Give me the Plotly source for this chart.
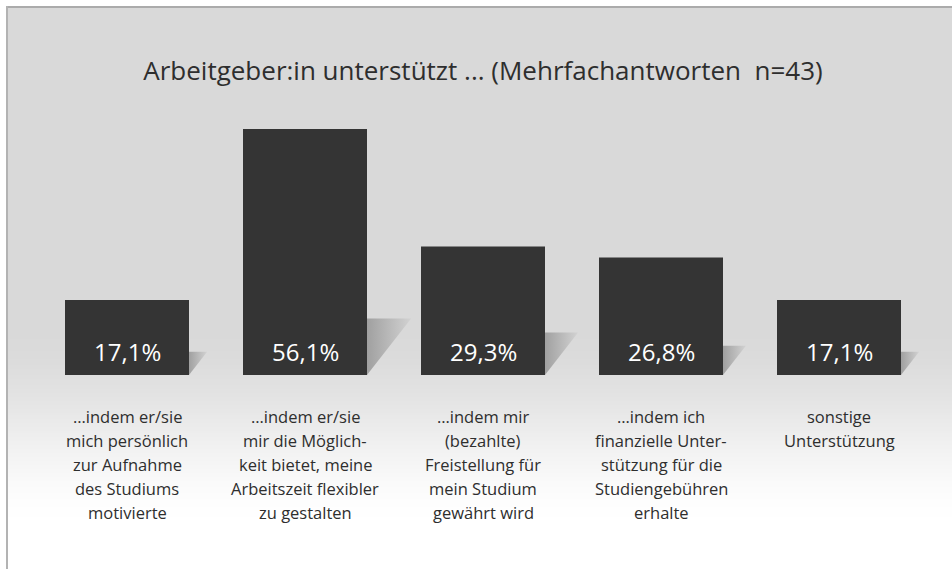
import plotly.graph_objects as go

# ---------------- data ----------------
TITLE = "Arbeitgeber:in unterstützt ... (Mehrfachantworten\u00a0 n=43)"
CATEGORIES = [
    "…indem er/sie<br>mich persönlich<br>zur Aufnahme<br>des Studiums<br>motivierte",
    "…indem er/sie<br>mir die Möglich-<br>keit bietet, meine<br>Arbeitszeit flexibler<br>zu gestalten",
    "…indem mir<br>(bezahlte)<br>Freistellung für<br>mein Studium<br>gewährt wird",
    "…indem ich<br>finanzielle Unter-<br>stützung für die<br>Studiengebühren<br>erhalte",
    "sonstige<br>Unterstützung",
]
VALUES = [17.1, 56.1, 29.3, 26.8, 17.1]

# ---------------- style ----------------
W, H = 952, 569
ML, MR, MT, MB = 38, 24, 112, 194
PW, PH = W - ML - MR, H - MT - MB
Y_MAX = 60.0
BAR_W = 0.6966
SHADOW_FRAC = [0.31, 0.23, 0.33, 0.25, 0.31]   # decorative shadow depth per bar
SHADOW_SLOPE = 0.78
FONT = "Open Sans"
TXT = "#2e2e2e"


def px_x(px):
    return (px - ML) / PW


def px_y(py):
    return (H - MB - py) / PH


def fmt(v):
    return f"{v:.1f}".replace(".", ",") + "%"


x_idx = list(range(len(CATEGORIES)))
fig = go.Figure()

# bars
fig.add_trace(go.Bar(
    x=x_idx, y=VALUES, width=BAR_W,
    marker=dict(color="#343434", line=dict(width=0)),
    hoverinfo="skip", showlegend=False,
))

# shadows (gradient triangles to the right of each bar)
px_per_unit_y = PH / Y_MAX
px_per_unit_x = PW / 5.0
for i, v in enumerate(VALUES):
    h = v * SHADOW_FRAC[i]
    dx = SHADOW_SLOPE * h * px_per_unit_y / px_per_unit_x
    xr = i + BAR_W / 2
    fig.add_trace(go.Scatter(
        x=[xr, xr, xr + dx, xr], y=[0, h, h, 0],
        mode="lines", fill="toself", line=dict(width=0, color="rgba(0,0,0,0)"),
        fillgradient=dict(type="horizontal",
                          colorscale=[[0, "#a0a0a0"], [1, "#d2d2d2"]]),
        hoverinfo="skip", showlegend=False,
    ))

# background: gray panel fading to white
shapes = []
G_TOP, G_BOT = 325, 530
shapes.append(dict(type="rect", xref="paper", yref="paper", layer="below",
                   x0=px_x(7), x1=px_x(955), y0=px_y(7), y1=px_y(G_TOP),
                   fillcolor="rgb(217,217,217)", line=dict(width=0)))
step = 2
for y in range(G_TOP, G_BOT, step):
    t = (y - G_TOP) / (G_BOT - G_TOP)
    t = t * t * (3 - 2 * t)
    c = round(217 + (255 - 217) * t)
    shapes.append(dict(type="rect", xref="paper", yref="paper", layer="below",
                       x0=px_x(7), x1=px_x(955), y0=px_y(y), y1=px_y(y + step + 0.5),
                       fillcolor=f"rgb({c},{c},{c})", line=dict(width=0)))
# frame lines
shapes.append(dict(type="line", xref="paper", yref="paper", layer="below",
                   x0=px_x(6.5), x1=px_x(955), y0=px_y(7), y1=px_y(7),
                   line=dict(color="#ababab", width=2)))
shapes.append(dict(type="line", xref="paper", yref="paper", layer="below",
                   x0=px_x(7), x1=px_x(7), y0=px_y(6), y1=px_y(600),
                   line=dict(color="#b3b3b3", width=2)))

annotations = []
# value labels inside bars
for i, v in enumerate(VALUES):
    annotations.append(dict(x=i, y=0, xref="x", yref="y", text=fmt(v),
                            showarrow=False, yanchor="middle", xanchor="center",
                            yshift=23.8,
                            font=dict(family=FONT, size=24, color="#ffffff")))
# category labels below bars (one annotation per line for exact leading)
LINE_GAP = 24
for i, lab in enumerate(CATEGORIES):
    for k, line in enumerate(lab.split("<br>")):
        annotations.append(dict(x=i, y=0, xref="x", yref="y", text=line,
                                showarrow=False, yanchor="middle", xanchor="center",
                                yshift=-(41.6 + LINE_GAP * k),
                                font=dict(family=FONT, size=16.5, color=TXT)))

fig.update_layout(
    width=W, height=H,
    margin=dict(l=ML, r=MR, t=MT, b=MB, pad=0),
    paper_bgcolor="#ffffff", plot_bgcolor="rgba(0,0,0,0)",
    title=dict(text=TITLE, xref="paper", x=0.5, xanchor="center",
               yref="container", y=1 - 71 / H, yanchor="middle",
               font=dict(family=FONT, size=26, color=TXT)),
    xaxis=dict(range=[-0.5, 4.5], visible=False, fixedrange=True),
    yaxis=dict(range=[0, Y_MAX], visible=False, fixedrange=True),
    shapes=shapes, annotations=annotations,
    showlegend=False, bargap=0.3,
)

fig.write_html(
    "out.html",
    config={"displayModeBar": False, "staticPlot": True},
    post_script="document.body.style.margin='0';document.body.style.overflow='hidden';",
)
